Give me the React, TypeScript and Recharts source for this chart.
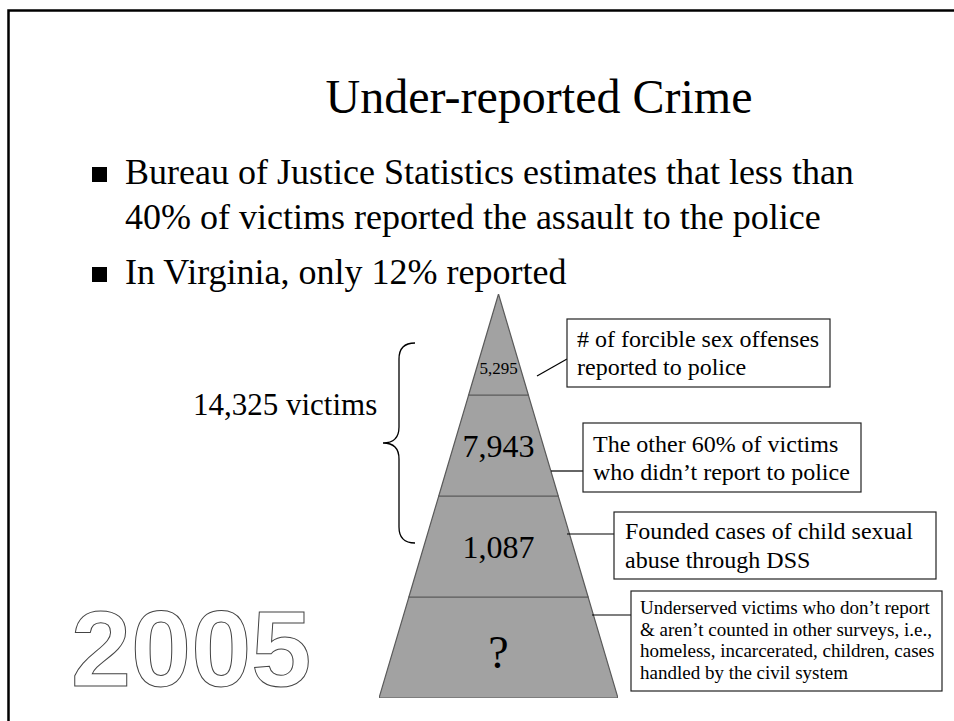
import React from "react"
import { FunnelChart, Funnel, Trapezoid } from "recharts"

// pyramid tiers, bottom to top (a reversed Funnel puts the first item at the bottom)
const tierLabels = ["?", "1,087", "7,943", "5,295"]
const tierRank = [4, 3, 2, 1]

const title = "Under-reported Crime"
const bulletLines = [
  ["Bureau of Justice Statistics estimates that less than", "40% of victims reported the assault to the police"],
  ["In Virginia, only 12% reported"],
]
const braceLabel = "14,325 victims"
const yearLabel = "2005"
const calloutTexts = [
  ["# of forcible sex offenses", "reported to police"],
  ["The other 60% of victims", "who didn’t report to police"],
  ["Founded cases of child sexual", "abuse through DSS"],
  [
    "Underserved victims who don’t report",
    "& aren’t counted in other surveys, i.e.,",
    "homeless, incarcerated, children, cases",
    "handled by the civil system",
  ],
]

const pyramidData = tierLabels.map((label, i) => ({ label, tier: tierRank[i] }))

const SERIF = "'Liberation Serif', 'Times New Roman', Times, serif"
const SANS = "'Liberation Sans', Arial, Helvetica, sans-serif"

// text size / baseline shift inside each tier, same order as tierLabels
const TIER_TEXT = [
  { size: 46, dy: 20 },
  { size: 32, dy: 11 },
  { size: 32, dy: 11 },
  { size: 17, dy: 29 },
]

// callout boxes and their leader lines
const BOXES = [
  { x: 567, y: 319, w: 263, h: 68, pad: 10, base: 347, size: 24, lh: 28, line: [537, 376, 567, 359] },
  { x: 583, y: 423, w: 278, h: 69, pad: 10, base: 452, size: 24, lh: 28, line: [551, 471, 583, 471] },
  { x: 614, y: 512, w: 322, h: 67, pad: 11, base: 539, size: 24, lh: 29, line: [567, 534, 614, 534] },
  { x: 631, y: 591, w: 311, h: 100, pad: 9, base: 614, size: 19, lh: 21.5, line: [592, 615, 631, 615] },
]

const TierShape = (props: any) => {
  const { x, y, upperWidth, lowerWidth, height } = props
  const label = props.payload?.label ?? props.name
  const st = TIER_TEXT[tierLabels.indexOf(label)] || TIER_TEXT[1]
  return (
    <g>
      <Trapezoid
        x={x}
        y={y}
        upperWidth={upperWidth}
        lowerWidth={lowerWidth}
        height={height}
        fill="#a2a2a2"
        stroke="#5a5a5a"
        strokeWidth={1.2}
      />
      <text
        x={x + upperWidth / 2}
        y={y + height / 2 + st.dy}
        textAnchor="middle"
        fontFamily={SERIF}
        fontSize={st.size}
        fill="#000"
      >
        {label}
      </text>
    </g>
  )
}

export default function App() {
  return (
    <div
      style={{
        position: "absolute",
        left: 0,
        top: 0,
        width: 954,
        height: 721,
        background: "#fff",
        overflow: "hidden",
      }}
    >
      <div style={{ position: "absolute", left: 379, top: 294 }}>
        <FunnelChart width={239} height={404} margin={{ top: 0, right: 0, bottom: 0, left: 0 }}>
          <Funnel
            data={pyramidData}
            dataKey="tier"
            nameKey="label"
            reversed
            lastShapeType="triangle"
            isAnimationActive={false}
            shape={TierShape}
          />
        </FunnelChart>
      </div>

      <svg
        width={954}
        height={721}
        style={{ position: "absolute", left: 0, top: 0, pointerEvents: "none" }}
      >
        <path d="M8.5 721 V10.5 H954" fill="none" stroke="#000" strokeWidth={2.5} />

        <text x={539} y={113} textAnchor="middle" fontFamily={SERIF} fontSize={48} fill="#000">
          {title}
        </text>

        {bulletLines.map((lines, bi) => {
          const base = bi === 0 ? 184 : 284
          return (
            <g key={bi}>
              <rect x={92} y={base - 17} width={15} height={15} fill="#000" />
              {lines.map((t, li) => (
                <text key={li} x={125} y={base + li * 45} fontFamily={SERIF} fontSize={36} fill="#000">
                  {t}
                </text>
              ))}
            </g>
          )
        })}

        <text x={193} y={415} fontFamily={SERIF} fontSize={31} fill="#000">
          {braceLabel}
        </text>
        <path
          d="M415 343 Q399 343 399 359 V427 Q399 443 383 443 Q399 443 399 459 V527 Q399 543 415 543"
          fill="none"
          stroke="#000"
          strokeWidth={1.3}
        />

        {BOXES.map((b, i) => (
          <g key={i}>
            <line x1={b.line[0]} y1={b.line[1]} x2={b.line[2]} y2={b.line[3]} stroke="#000" strokeWidth={1.2} />
            <rect x={b.x} y={b.y} width={b.w} height={b.h} fill="#fff" stroke="#222" strokeWidth={1.2} />
            {calloutTexts[i].map((t, li) => (
              <text
                key={li}
                x={b.x + b.pad}
                y={b.base + li * b.lh}
                fontFamily={SERIF}
                fontSize={b.size}
                fill="#000"
              >
                {t}
              </text>
            ))}
          </g>
        ))}

        <text
          x={71}
          y={686}
          fontFamily={SANS}
          fontWeight="bold"
          fontSize={108}
          fill="#fff"
          stroke="#444"
          strokeWidth={1}
        >
          {yearLabel}
        </text>
      </svg>
    </div>
  )
}
